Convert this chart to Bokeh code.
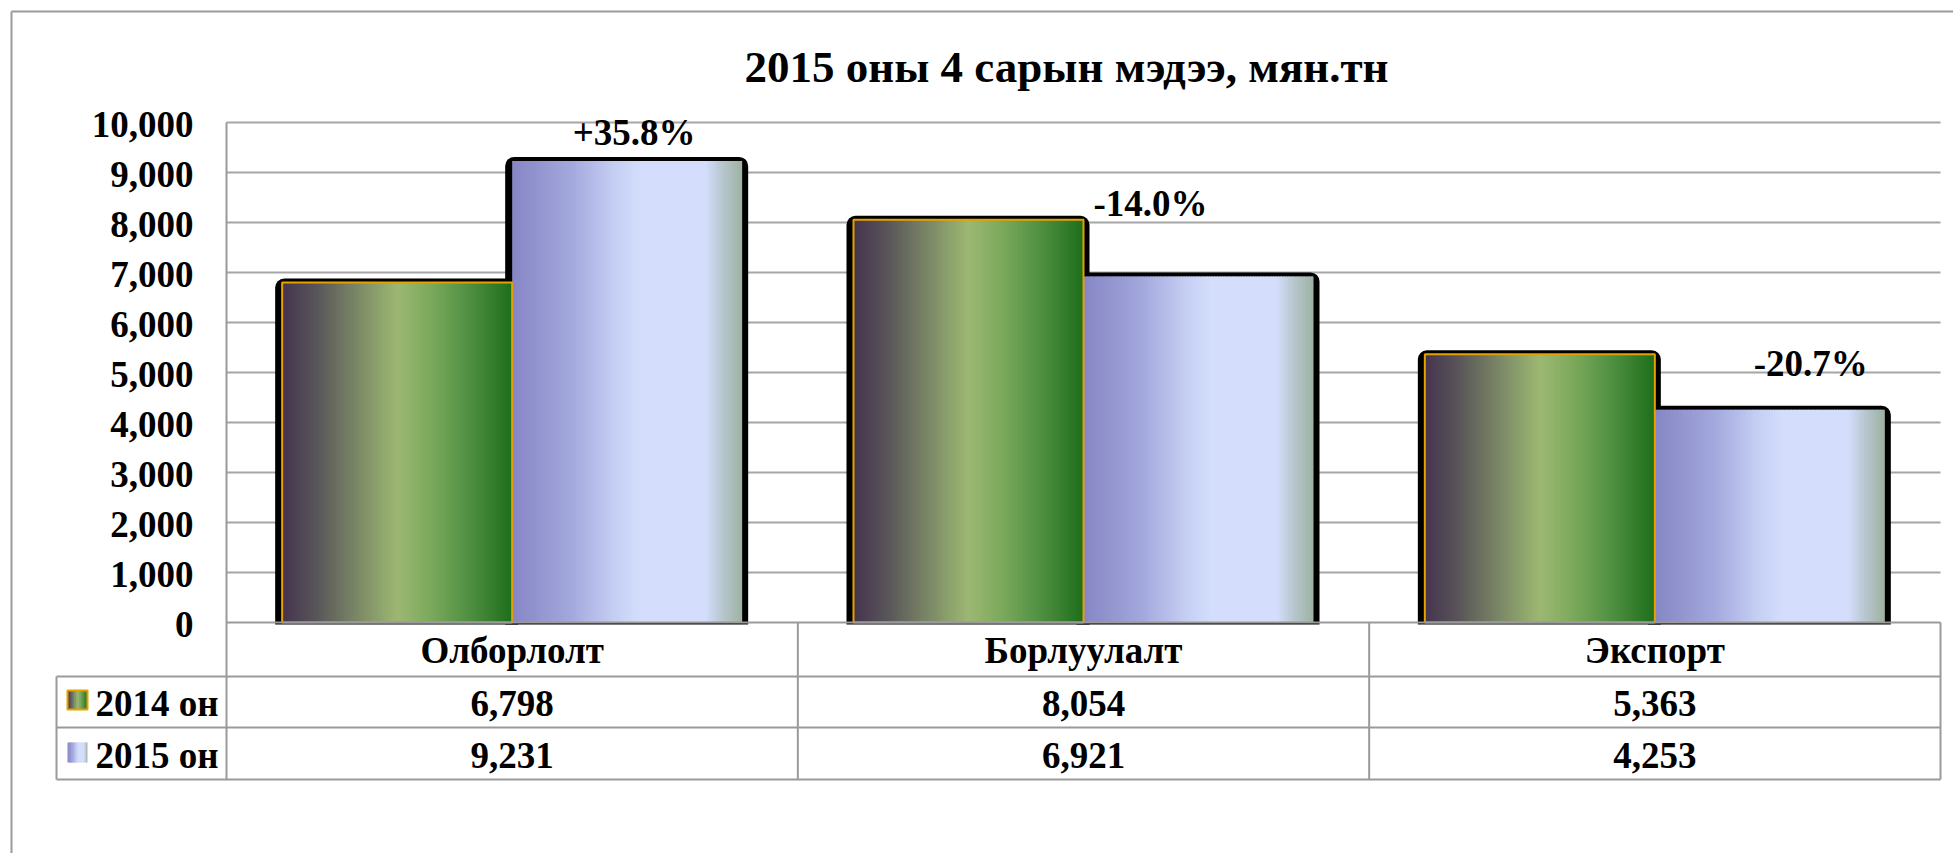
import numpy as np
from bokeh.plotting import figure
from bokeh.models import Range1d
from bokeh.core.properties import value
from bokeh.embed import file_html
from bokeh.resources import INLINE

# ---------------- data ----------------
categories = ["Олборлолт", "Борлуулалт", "Экспорт"]
series_names = ["2014 он", "2015 он"]
values_2014 = [6798, 8054, 5363]
values_2015 = [9231, 6921, 4253]
change_labels = ["+35.8%", "-14.0%", "-20.7%"]
y_ticks = [0, 1000, 2000, 3000, 4000, 5000, 6000, 7000, 8000, 9000, 10000]
y_max = 10000
title_text = "2015 оны 4 сарын мэдээ, мян.тн"

# ---------------- styles ----------------
grad_2014 = [(0.0, "#45344f"), (0.15, "#595659"), (0.32, "#7a8666"), (0.5, "#9cb872"),
             (0.65, "#7ba85b"), (0.8, "#539244"), (1.0, "#1e6e1a")]
grad_2015 = [(0.0, "#8686c4"), (0.25, "#a2a7dc"), (0.45, "#c6cff3"), (0.56, "#d4defc"),
             (0.84, "#d4defc"), (0.9, "#bccad6"), (1.0, "#9db2a1")]
FONT = value("Liberation Serif")
FS = "37px"
TITLE_FS = "45px"
LINE_C = "#9a9a9a"
ORANGE = "#e6a100"

# ---------------- layout (page pixels) ----------------
W, H = 1953, 853
M = 0
PL, PR = 226, 1940          # plot area left / right
PY0, PYT = 622, 122         # y = 0 and y = y_max
ROW_LINES = [676, 727, 779]
TS = 10                     # text baseline correction
ROW_BASE = [660 - TS, 713 - TS, 765 - TS]  # text baselines of table rows
LEG_LEFT = 56
LEG_TEXT_X = 95
KEY_X = (67, 87)
KEY_Y = [(690, 709), (742, 762)]
BORDER = 11
TICK_LABEL_X = 193
TICK_BASE_DY = 12 - TS
TITLE_X, TITLE_BASE = 1066, 80 - 14
BAR_W = 230
SH_L, SH_R, SH_T, SH_B = 7, 6, 4, 2
LABEL_DX = [7, -48, 41]
LABEL_DY = [18 + TS, 63 + TS, 36 + TS]

n_cat = len(categories)
ux = n_cat / (PR - PL)
uy = y_max / (PY0 - PYT)


def X(px):
    return (px - PL) * ux


def Y(py):
    return (PY0 - py) * uy


def hex2rgb(h):
    return tuple(int(h[i:i + 2], 16) for i in (1, 3, 5))


def grad_color(stops, t):
    for (t0, c0), (t1, c1) in zip(stops, stops[1:]):
        if t <= t1:
            f = (t - t0) / (t1 - t0) if t1 > t0 else 0.0
            a, b = hex2rgb(c0), hex2rgb(c1)
            return "#%02x%02x%02x" % tuple(int(round(a[i] + (b[i] - a[i]) * f)) for i in range(3))
    return stops[-1][1]


def strips(lefts, rights, tops, bottoms, stops, n):
    L, R, T, B, C = [], [], [], [], []
    for l, r, t, b in zip(lefts, rights, tops, bottoms):
        step = (r - l) / n
        for k in range(n):
            L.append(l + k * step)
            R.append(min(r, l + (k + 1.7) * step))
            T.append(t)
            B.append(b)
            C.append(grad_color(stops, (k + 0.5) / n))
    return dict(left=L, right=R, top=T, bottom=B, fill_color=C)


p = figure(width=W, height=H,
           x_range=Range1d(X(M), X(M + W)), y_range=Range1d(Y(M + H), Y(M)),
           output_backend="svg", toolbar_location=None,
           x_axis_location=None, y_axis_location=None,
           min_border=0, outline_line_color=None,
           background_fill_color="white", border_fill_color="white")
p.xgrid.visible = False
p.ygrid.visible = False

# outer chart border
p.segment(x0=[X(BORDER), X(BORDER)], y0=[Y(BORDER), Y(BORDER)],
          x1=[X(M + W), X(BORDER)], y1=[Y(BORDER), Y(M + H)],
          line_color=LINE_C, line_width=2)

# title
p.text(x=[X(TITLE_X)], y=[Y(TITLE_BASE)], text=[title_text], text_font=FONT,
       text_font_style="bold", text_font_size=TITLE_FS, text_align="center",
       text_baseline="alphabetic", text_color="black")

# gridlines (non-zero)
gt = [t for t in y_ticks if t > 0]
p.segment(x0=[0] * len(gt), x1=[n_cat] * len(gt), y0=gt, y1=gt,
          line_color="#a6a6a6", line_width=2)

# tick labels
p.text(x=[X(TICK_LABEL_X)] * len(y_ticks), y=[t - TICK_BASE_DY * uy for t in y_ticks],
       text=[f"{t:,}" for t in y_ticks], text_font=FONT, text_font_style="bold",
       text_font_size=FS, text_align="right", text_baseline="alphabetic", text_color="black")

# bars
centers = np.arange(n_cat) + 0.5
bw = BAR_W * ux
l14, r14 = centers - bw, centers
l15, r15 = centers, centers + bw
v14 = np.array(values_2014, dtype=float)
v15 = np.array(values_2015, dtype=float)

# shadows
p.quad(left=np.concatenate([l14, l15]) - SH_L * ux, right=np.concatenate([r14, r15]) + SH_R * ux,
       top=np.concatenate([v14, v15]) + SH_T * uy, bottom=[-SH_B * uy] * (2 * n_cat),
       fill_color="black", line_color=None, border_radius=(9, 9, 0, 0))

# gradient fills
zeros = [0.0] * n_cat
p.quad(line_color=None, **strips(l14, r14, v14, zeros, grad_2014, 90))
p.quad(line_color=None, **strips(l15, r15, v15, zeros, grad_2015, 90))
p.quad(left=l14, right=r14, top=v14, bottom=zeros, fill_color=None,
       line_color=ORANGE, line_width=2)

# change labels above 2015 bars
lx = [c + bw / 2 + dx * ux for c, dx in zip(centers, LABEL_DX)]
ly = [v + dy * uy for v, dy in zip(values_2015, LABEL_DY)]
p.text(x=lx, y=ly, text=change_labels, text_font=FONT, text_font_style="bold",
       text_font_size=FS, text_align="center", text_baseline="alphabetic", text_color="black")

# data table lines
hx0 = [0] + [X(LEG_LEFT)] * len(ROW_LINES)
hy = [0] + [Y(r) for r in ROW_LINES]
p.segment(x0=hx0, x1=[n_cat] * len(hy), y0=hy, y1=hy, line_color=LINE_C, line_width=2)
bottom_y = Y(ROW_LINES[-1])
vx = [0, 1, 2, 3]
vy_top = [y_max, 0, 0, 0]
p.segment(x0=vx, x1=vx, y0=[bottom_y] * 4, y1=vy_top, line_color=LINE_C, line_width=2)
p.segment(x0=[X(LEG_LEFT)], x1=[X(LEG_LEFT)], y0=[bottom_y], y1=[Y(ROW_LINES[0])],
          line_color=LINE_C, line_width=2)

# table texts
p.text(x=centers, y=[Y(ROW_BASE[0])] * n_cat, text=categories, text_font=FONT,
       text_font_style="bold", text_font_size=FS, text_align="center",
       text_baseline="alphabetic", text_color="black")
for row, vals in enumerate([values_2014, values_2015]):
    p.text(x=centers, y=[Y(ROW_BASE[row + 1])] * n_cat, text=[f"{v:,}" for v in vals],
           text_font=FONT, text_font_style="bold", text_font_size=FS, text_align="center",
           text_baseline="alphabetic", text_color="black")
p.text(x=[X(LEG_TEXT_X)] * 2, y=[Y(b) for b in ROW_BASE[1:]], text=series_names,
       text_font=FONT, text_font_style="bold", text_font_size=FS, text_align="left",
       text_baseline="alphabetic", text_color="black")

# legend keys
for (ky0, ky1), stops, outline in zip(KEY_Y, [grad_2014, grad_2015], [ORANGE, None]):
    p.quad(line_color=None, **strips([X(KEY_X[0])], [X(KEY_X[1])], [Y(ky0)], [Y(ky1)], stops, 12))
    if outline:
        p.quad(left=[X(KEY_X[0])], right=[X(KEY_X[1])], top=[Y(ky0)], bottom=[Y(ky1)],
               fill_color=None, line_color=outline, line_width=2)

open("out.html", "w").write(file_html(p, INLINE))
